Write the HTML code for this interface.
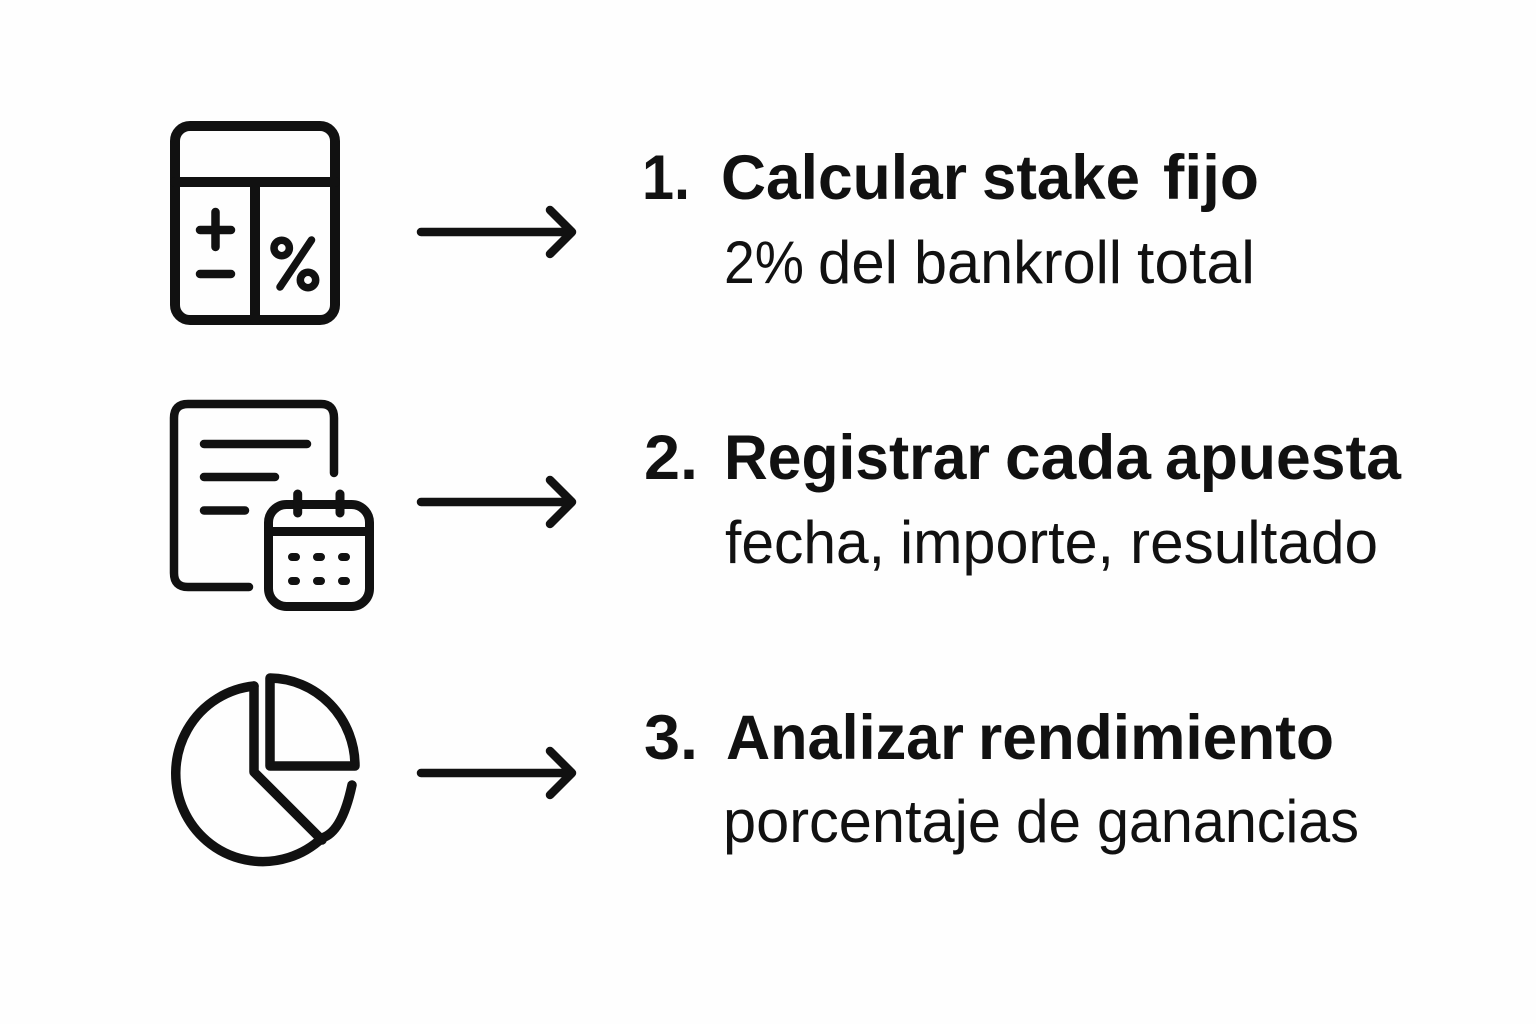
<!DOCTYPE html>
<html><head><meta charset="utf-8"><style>
html,body{margin:0;padding:0;background:#fefefe}
svg{display:block}
.t{font-family:"Liberation Sans",sans-serif;font-weight:700;font-size:63px;fill:#111}
.s{font-family:"Liberation Sans",sans-serif;font-weight:400;font-size:60px;fill:#111}
</style></head><body>
<svg width="1536" height="1024" viewBox="0 0 1536 1024" xmlns="http://www.w3.org/2000/svg">
<rect width="1536" height="1024" fill="#fefefe"/>
<g fill="none" stroke="#111" stroke-linecap="round" stroke-linejoin="round">
<!-- calculator -->
<g stroke-width="10">
<rect x="175" y="126" width="160" height="194" rx="15"/>
<path d="M175 182H335M255 182V320"/>
</g>
<g stroke-width="8.5">
<path d="M200 230H231M215.500 212V247M200 274H231"/>
</g>
<g stroke-width="7.500">
<path d="M311.500 240L280 287"/>
<circle cx="281.700" cy="248" r="7.700"/><circle cx="308" cy="280" r="7.700"/>
</g>
<!-- arrows -->
<g stroke-width="8.500">
<path d="M421 232H572M550 210L572 232L550 254"/>
<path d="M421 502H572M550 480L572 502L550 524"/>
<path d="M421 773H572M550 751L572 773L550 795"/>
</g>
<!-- document -->
<g stroke-width="8.500">
<path d="M249 587H188Q174 587 174 573V418Q174 404 188 404H321Q334 404 334 418V473"/>
<path d="M204 444H307M204 477H275M204 510.500H245"/>
</g>
<!-- calendar -->
<g stroke-width="9">
<rect x="268.500" y="504.500" width="101" height="102" rx="18"/>
<path d="M268.500 531.500H369.500M297.700 494V513M340 494V513"/>
</g>
<path stroke-width="8" d="M292 557H296M317 557H321M342 557H346M292 581H296M317 581H321M342 581H346"/>
<!-- pie -->
<g stroke-width="9.500">
<path d="M254 686A87 88 0 1 0 322 838Q342 832 352 785"/>
<path d="M322 840L254 772V686"/>
<path d="M270 678V766H355A86 88 0 0 0 270 678Z"/>
</g>
</g>
<g lengthAdjust="spacingAndGlyphs">
<text class="t" x="642" y="199" textLength="48" lengthAdjust="spacingAndGlyphs">1.</text>
<text class="t" x="721" y="199" textLength="246" lengthAdjust="spacingAndGlyphs">Calcular</text>
<text class="t" x="982" y="199" textLength="158" lengthAdjust="spacingAndGlyphs">stake</text>
<text class="t" x="1163" y="199" textLength="96" lengthAdjust="spacingAndGlyphs">fijo</text>
<text class="s" x="724" y="283" textLength="80" lengthAdjust="spacingAndGlyphs">2%</text>
<text class="s" x="818" y="283" textLength="80" lengthAdjust="spacingAndGlyphs">del</text>
<text class="s" x="914" y="283" textLength="208" lengthAdjust="spacingAndGlyphs">bankroll</text>
<text class="s" x="1137" y="283" textLength="118" lengthAdjust="spacingAndGlyphs">total</text>
<text class="t" x="644" y="479" textLength="54" lengthAdjust="spacingAndGlyphs">2.</text>
<text class="t" x="724" y="479" textLength="266" lengthAdjust="spacingAndGlyphs">Registrar</text>
<text class="t" x="1005" y="479" textLength="146" lengthAdjust="spacingAndGlyphs">cada</text>
<text class="t" x="1165" y="479" textLength="236" lengthAdjust="spacingAndGlyphs">apuesta</text>
<text class="s" x="725" y="563" textLength="160" lengthAdjust="spacingAndGlyphs">fecha,</text>
<text class="s" x="900" y="563" textLength="214" lengthAdjust="spacingAndGlyphs">importe,</text>
<text class="s" x="1130" y="563" textLength="248" lengthAdjust="spacingAndGlyphs">resultado</text>
<text class="t" x="644" y="759" textLength="54" lengthAdjust="spacingAndGlyphs">3.</text>
<text class="t" x="726" y="759" textLength="238" lengthAdjust="spacingAndGlyphs">Analizar</text>
<text class="t" x="978" y="759" textLength="356" lengthAdjust="spacingAndGlyphs">rendimiento</text>
<text class="s" x="723" y="842" textLength="278" lengthAdjust="spacingAndGlyphs">porcentaje</text>
<text class="s" x="1016" y="842" textLength="65" lengthAdjust="spacingAndGlyphs">de</text>
<text class="s" x="1097" y="842" textLength="262" lengthAdjust="spacingAndGlyphs">ganancias</text>
</g>
</svg>
</body></html>
